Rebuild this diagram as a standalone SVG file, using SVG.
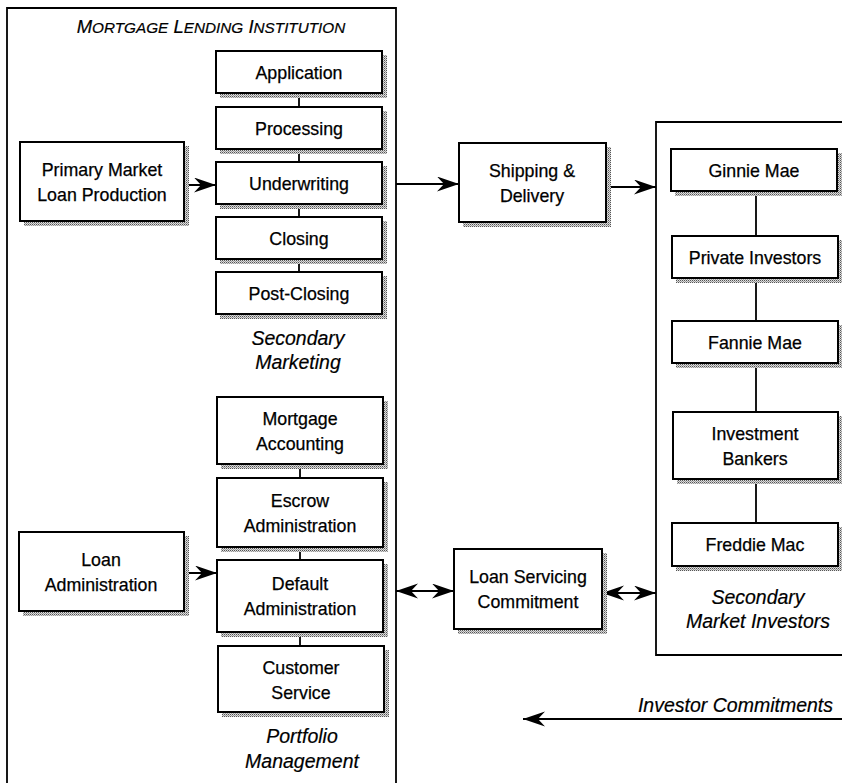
<svg xmlns="http://www.w3.org/2000/svg" width="842" height="783" viewBox="0 0 842 783">
<defs>
  <pattern id="hatch" width="2" height="2" patternUnits="userSpaceOnUse">
    <rect width="2" height="2" fill="#dcdcdc"/>
    <rect width="1" height="1" fill="#555"/>
    <rect x="1" y="1" width="1" height="1" fill="#999"/>
  </pattern>
  <marker id="ah" markerUnits="userSpaceOnUse" markerWidth="24" markerHeight="16" refX="22" refY="7.5" orient="auto-start-reverse" viewBox="0 0 24 16">
    <path d="M0,0 L22,7.5 L0,15 L7,7.5 z" fill="#000"/>
  </marker>
</defs>
<style>
  .box rect.b { fill:#fff; stroke:#000; stroke-width:2; }
  .box rect.s { fill:url(#hatch); }
  .t { font-family:"Liberation Sans", Arial, sans-serif; font-size:17.8px; fill:#000; text-anchor:middle; stroke:#000; stroke-width:0.25; }
  .i { font-family:"Liberation Sans", Arial, sans-serif; font-size:19.5px; font-style:italic; fill:#000; text-anchor:middle; stroke:#000; stroke-width:0.2; }
  .frame { fill:none; stroke:#000; stroke-width:1.8; }
  .c { stroke:#000; stroke-width:1.8; fill:none; }
  .a { stroke:#000; stroke-width:2; fill:none; marker-end:url(#ah); }
  .d { stroke:#000; stroke-width:2; fill:none; marker-end:url(#ah); marker-start:url(#ah); }
</style>

<g id="frames">
  <path class="frame" d="M7,790 V8 H396 V790"/>
  <path class="frame" d="M850,122 H656 V655 H850"/>
  <text x="211" y="33" font-family="'Liberation Sans', Arial, sans-serif" font-style="italic" text-anchor="middle" font-size="18.5" stroke="#000" stroke-width="0.2">M<tspan font-size="15.3">ORTGAGE</tspan> L<tspan font-size="15.3">ENDING</tspan> I<tspan font-size="15.3">NSTITUTION</tspan></text>
  <text class="i" x="298" y="345">Secondary</text>
  <text class="i" x="298" y="369">Marketing</text>
  <text class="i" x="302" y="743">Portfolio</text>
  <text class="i" x="302" y="768">Management</text>
  <text class="i" x="758" y="604">Secondary</text>
  <text class="i" x="758" y="628">Market Investors</text>
  <text class="i" x="833" y="712" style="text-anchor:end">Investor Commitments</text>
</g>

<g id="connectors">
  <path class="c" d="M299,93 V107 M299,149 V162 M299,204 V217 M299,259 V272"/>
  <path class="c" d="M300,464 V478 M300,547 V560 M300,632 V646"/>
  <path class="c" d="M756,191 V236 M756,278 V321 M756,363 V412 M756,479 V523"/>
  <path class="a" d="M184,185 H216"/>
  <path class="a" d="M396,184 H459"/>
  <path class="a" d="M606,187 H656"/>
  <path class="a" d="M184,573 H217"/>
  <path class="d" d="M396,591 H454"/>
  <path class="d" d="M602,593 H656"/>
  <path class="a" d="M842,719 H523"/>
</g>

<g id="application" class="box"><rect class="s" x="220" y="55" width="167" height="43"/><rect class="b" x="216" y="51" width="166" height="42"/><text class="t" x="299" y="79">Application</text></g>
<g id="processing" class="box"><rect class="s" x="220" y="111" width="167" height="43"/><rect class="b" x="216" y="107" width="166" height="42"/><text class="t" x="299" y="135">Processing</text></g>
<g id="underwriting" class="box"><rect class="s" x="220" y="166" width="167" height="43"/><rect class="b" x="216" y="162" width="166" height="42"/><text class="t" x="299" y="190">Underwriting</text></g>
<g id="closing" class="box"><rect class="s" x="220" y="221" width="167" height="43"/><rect class="b" x="216" y="217" width="166" height="42"/><text class="t" x="299" y="245">Closing</text></g>
<g id="post-closing" class="box"><rect class="s" x="220" y="276" width="167" height="43"/><rect class="b" x="216" y="272" width="166" height="42"/><text class="t" x="299" y="300">Post-Closing</text></g>

<g id="primary-market" class="box"><rect class="s" x="24" y="146" width="165" height="80"/><rect class="b" x="20" y="142" width="164" height="79"/><text class="t" x="102" y="176">Primary Market</text><text class="t" x="102" y="201">Loan Production</text></g>

<g id="shipping" class="box"><rect class="s" x="463" y="147" width="148" height="80"/><rect class="b" x="459" y="143" width="147" height="79"/><text class="t" x="532" y="177">Shipping &amp;</text><text class="t" x="532" y="202">Delivery</text></g>

<g id="ginnie-mae" class="box"><rect class="s" x="675" y="153" width="167" height="43"/><rect class="b" x="671" y="149" width="166" height="42"/><text class="t" x="754" y="177">Ginnie Mae</text></g>
<g id="private-investors" class="box"><rect class="s" x="676" y="240" width="167" height="43"/><rect class="b" x="672" y="236" width="166" height="42"/><text class="t" x="755" y="264">Private Investors</text></g>
<g id="fannie-mae" class="box"><rect class="s" x="676" y="325" width="167" height="43"/><rect class="b" x="672" y="321" width="166" height="42"/><text class="t" x="755" y="349">Fannie Mae</text></g>
<g id="investment-bankers" class="box"><rect class="s" x="677" y="416" width="166" height="68"/><rect class="b" x="673" y="412" width="165" height="67"/><text class="t" x="755" y="440">Investment</text><text class="t" x="755" y="465">Bankers</text></g>
<g id="freddie-mac" class="box"><rect class="s" x="676" y="527" width="167" height="44"/><rect class="b" x="672" y="523" width="166" height="43"/><text class="t" x="755" y="551">Freddie Mac</text></g>

<g id="loan-servicing" class="box"><rect class="s" x="458" y="553" width="149" height="81"/><rect class="b" x="454" y="549" width="148" height="80"/><text class="t" x="528" y="583">Loan Servicing</text><text class="t" x="528" y="608">Commitment</text></g>

<g id="mortgage-accounting" class="box"><rect class="s" x="221" y="401" width="167" height="68"/><rect class="b" x="217" y="397" width="166" height="67"/><text class="t" x="300" y="425">Mortgage</text><text class="t" x="300" y="450">Accounting</text></g>
<g id="escrow" class="box"><rect class="s" x="221" y="482" width="167" height="70"/><rect class="b" x="217" y="478" width="166" height="69"/><text class="t" x="300" y="507">Escrow</text><text class="t" x="300" y="532">Administration</text></g>
<g id="default" class="box"><rect class="s" x="221" y="564" width="167" height="73"/><rect class="b" x="217" y="560" width="166" height="72"/><text class="t" x="300" y="590">Default</text><text class="t" x="300" y="615">Administration</text></g>
<g id="customer-service" class="box"><rect class="s" x="222" y="650" width="167" height="67"/><rect class="b" x="218" y="646" width="166" height="66"/><text class="t" x="301" y="674">Customer</text><text class="t" x="301" y="699">Service</text></g>

<g id="loan-administration" class="box"><rect class="s" x="23" y="536" width="166" height="80"/><rect class="b" x="19" y="532" width="165" height="79"/><text class="t" x="101" y="566">Loan</text><text class="t" x="101" y="591">Administration</text></g>
</svg>
